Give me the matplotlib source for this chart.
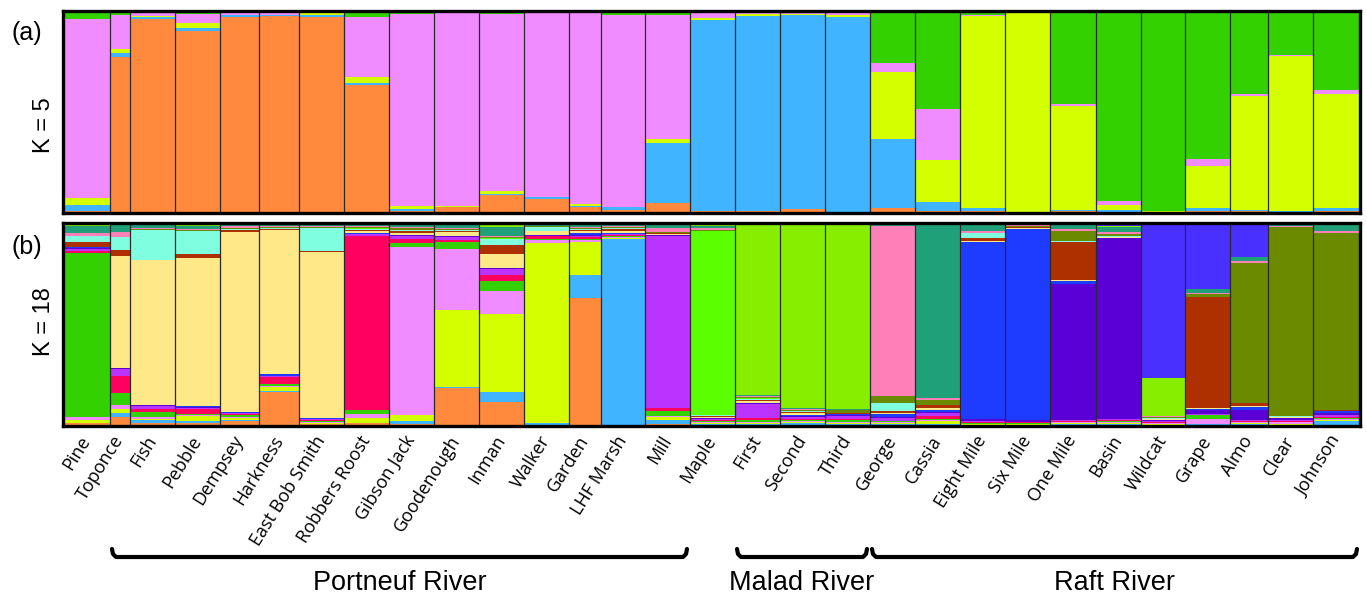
import matplotlib

matplotlib.use("Agg")
import matplotlib.pyplot as plt
import numpy as np

# ---- populations and admixture proportions --------------------------------
populations = [
    "Pine", "Toponce", "Fish", "Pebble", "Dempsey", "Harkness", "East Bob Smith",
    "Robbers Roost", "Gibson Jack", "Goodenough", "Inman", "Walker", "Garden",
    "LHF Marsh", "Mill", "Maple", "First", "Second", "Third", "George", "Cassia",
    "Eight Mile", "Six Mile", "One Mile", "Basin", "Wildcat", "Grape", "Almo",
    "Clear", "Johnson",
]

# K = 5 clusters, stacked bottom -> top
k5_colors = ["#FF8A3D", "#40B4FF", "#D4FF00", "#F08CFF", "#33D100"]
q_k5 = [
    # orange, blue, yellow, pink, green   (%)
    [0.8, 3.3, 3.3, 88.7, 3.8],     # Pine
    [77.0, 2.2, 2.0, 17.0, 1.8],    # Toponce
    [96.0, 1.0, 0.5, 2.0, 0.5],     # Fish
    [90.0, 1.7, 2.5, 4.5, 1.3],     # Pebble
    [97.0, 0.8, 0.2, 1.5, 0.5],     # Dempsey
    [97.5, 0.3, 0.2, 1.5, 0.5],     # Harkness
    [97.0, 1.0, 1.5, 0.3, 0.2],     # East Bob Smith
    [63.2, 1.0, 3.3, 29.5, 3.0],    # Robbers Roost
    [1.2, 0.8, 1.7, 94.6, 1.7],     # Gibson Jack
    [2.8, 0.3, 0.5, 96.1, 0.3],     # Goodenough
    [8.7, 0.8, 1.3, 87.9, 1.3],     # Inman
    [7.0, 0.8, 0.3, 91.4, 0.5],     # Walker
    [3.0, 0.5, 1.0, 95.0, 0.5],     # Garden
    [1.7, 1.2, 0.3, 95.0, 1.8],     # LHF Marsh
    [4.8, 30.0, 1.7, 61.3, 2.2],    # Mill
    [1.2, 94.5, 1.0, 2.5, 0.8],     # Maple
    [0.8, 96.7, 1.0, 1.2, 0.3],     # First
    [2.0, 95.8, 0.7, 1.2, 0.3],     # Second
    [0.5, 96.5, 1.2, 1.5, 0.3],     # Third
    [2.3, 34.3, 33.2, 4.7, 25.5],   # George
    [1.2, 4.2, 20.8, 25.5, 48.3],   # Cassia
    [0.8, 1.5, 95.2, 0.7, 1.8],     # Eight Mile
    [0.3, 0.3, 99.0, 0.3, 0.1],     # Six Mile
    [1.0, 0.5, 51.5, 1.2, 45.8],    # One Mile
    [0.7, 0.8, 2.5, 1.7, 94.3],     # Basin
    [0.3, 0.2, 0.5, 0.2, 98.8],     # Wildcat
    [1.2, 1.2, 20.8, 3.5, 73.3],    # Grape
    [0.8, 0.8, 56.2, 1.2, 41.0],    # Almo
    [0.5, 0.3, 76.7, 0.7, 21.8],    # Clear
    [1.2, 1.3, 56.2, 2.0, 39.3],    # Johnson
]

# K = 18 clusters, stacked bottom -> top
k18_colors = [
    "#FF8A3D",  # orange
    "#40B4FF",  # sky blue
    "#D4FF00",  # yellow-green
    "#F08CFF",  # orchid
    "#33D100",  # green
    "#FF0060",  # crimson
    "#BB33FF",  # purple
    "#5A00D6",  # indigo
    "#1E3CFF",  # royal blue
    "#FFE888",  # pale yellow
    "#AE3000",  # rust
    "#80FFE0",  # aquamarine
    "#5CFF00",  # lime
    "#6B8A00",  # olive
    "#FF80B8",  # rose
    "#20A078",  # teal
    "#88EE00",  # chartreuse
    "#4A30FF",  # blue violet
]
q_k18 = [
    [1.3, 0.3, 1.3, 1.7, 79.7, 1.0, 1.0, 0.5, 0.5, 0.3, 2.0, 3.0, 0.0, 0.3, 1.2, 3.7, 0.5, 0.8],    # Pine
    [4.5, 1.7, 2.2, 1.7, 6.2, 8.3, 3.3, 0.5, 0.3, 55.0, 2.8, 6.3, 0.0, 0.0, 2.5, 4.2, 0.0, 0.3],    # Toponce
    [1.7, 1.3, 0.5, 1.2, 2.2, 1.5, 1.7, 0.3, 0.3, 72.8, 0.3, 15.0, 0.0, 0.5, 0.5, 1.7, 0.5, 0.3],   # Fish
    [1.7, 0.8, 2.3, 0.5, 0.5, 2.5, 0.8, 0.3, 0.3, 73.0, 2.0, 11.3, 0.0, 0.5, 0.5, 1.7, 0.8, 0.5],   # Pebble
    [2.5, 0.5, 1.2, 0.5, 0.8, 0.5, 0.3, 0.3, 0.3, 90.0, 0.8, 0.5, 0.0, 0.8, 0.8, 1.0, 0.3, 0.3],    # Dempsey
    [17.0, 0.5, 2.2, 0.5, 0.8, 3.3, 0.5, 0.3, 1.0, 71.7, 0.5, 0.5, 0.0, 0.5, 0.8, 0.8, 0.3, 0.3],   # Harkness
    [0.8, 0.3, 0.3, 0.8, 0.3, 0.3, 0.5, 0.3, 0.3, 83.7, 0.5, 11.7, 0.0, 0.3, 0.3, 1.7, 0.0, 0.0],   # East Bob Smith
    [1.3, 0.3, 2.3, 1.8, 2.0, 86.3, 0.8, 0.3, 0.3, 1.2, 0.3, 0.3, 0.8, 0.5, 0.5, 0.8, 0.3, 0.3],    # Robbers Roost
    [0.8, 1.7, 2.8, 82.2, 2.2, 1.7, 1.7, 0.3, 0.3, 1.0, 0.8, 0.5, 0.0, 0.8, 0.5, 1.5, 0.3, 0.3],    # Gibson Jack
    [18.7, 0.5, 38.0, 29.8, 3.3, 1.3, 1.3, 0.3, 0.3, 1.7, 0.8, 0.5, 0.0, 0.5, 0.5, 1.7, 0.3, 0.3],  # Goodenough
    [11.7, 4.7, 37.3, 11.3, 4.7, 3.0, 2.8, 0.3, 0.3, 6.7, 4.2, 2.8, 0.5, 0.5, 0.5, 4.5, 1.3, 0.5],  # Inman
    [0.5, 1.2, 88.0, 1.7, 0.3, 1.2, 0.3, 0.3, 0.3, 1.7, 0.3, 1.7, 0.0, 0.3, 0.3, 0.8, 0.3, 0.3],    # Walker
    [63.7, 11.7, 16.3, 0.8, 0.5, 1.0, 0.5, 0.5, 1.0, 1.0, 0.8, 0.5, 0.0, 0.5, 0.5, 1.0, 0.3, 0.5],  # Garden
    [0.5, 92.5, 0.3, 0.5, 0.5, 0.8, 0.3, 0.3, 0.3, 1.0, 0.8, 0.8, 0.0, 0.3, 0.5, 1.0, 0.3, 0.3],    # LHF Marsh
    [0.8, 2.2, 1.2, 0.5, 2.5, 1.7, 85.0, 0.3, 0.3, 0.5, 0.3, 0.3, 0.0, 0.5, 1.5, 1.7, 0.5, 0.5],    # Mill
    [0.3, 0.5, 0.5, 0.8, 0.3, 0.8, 0.3, 0.3, 0.3, 0.5, 0.3, 0.5, 90.8, 0.5, 0.8, 0.8, 1.2, 0.5],    # Maple
    [0.3, 0.8, 0.5, 0.5, 0.8, 0.8, 7.2, 0.3, 0.3, 0.8, 0.5, 0.5, 0.3, 0.5, 0.8, 0.5, 83.7, 0.3],    # First
    [0.5, 0.8, 0.5, 0.5, 0.5, 0.8, 0.8, 0.5, 0.5, 0.8, 0.5, 0.5, 0.0, 0.8, 0.5, 0.5, 90.8, 0.3],    # Second
    [0.3, 0.5, 0.5, 0.5, 1.0, 0.5, 1.7, 0.5, 0.3, 0.3, 0.3, 0.3, 0.0, 1.2, 0.3, 0.5, 92.0, 0.3],    # Third
    [0.3, 0.5, 0.5, 0.5, 0.5, 0.3, 1.5, 0.5, 1.3, 0.5, 1.2, 3.8, 0.0, 3.3, 84.2, 1.2, 0.0, 0.3],    # George
    [0.5, 0.5, 1.3, 0.5, 0.8, 1.3, 1.7, 0.5, 0.8, 0.8, 1.5, 0.3, 0.0, 2.5, 0.5, 85.8, 0.0, 0.3],    # Cassia
    [0.3, 0.3, 0.3, 0.3, 0.3, 0.3, 0.5, 1.2, 87.8, 0.5, 1.7, 2.2, 0.0, 0.3, 0.7, 3.0, 0.8, 0.3],    # Eight Mile
    [0.3, 0.3, 0.3, 0.3, 0.3, 0.3, 0.3, 0.8, 96.7, 0.3, 0.3, 0.3, 0.0, 0.3, 0.5, 0.8, 0.0, 0.3],    # Six Mile
    [0.5, 0.3, 0.8, 0.3, 0.3, 0.5, 0.3, 67.5, 1.5, 0.3, 18.8, 0.3, 0.0, 5.0, 1.3, 1.7, 0.3, 0.8],   # One Mile
    [0.3, 0.8, 0.5, 0.5, 0.5, 0.5, 0.5, 90.3, 0.3, 0.3, 0.3, 0.3, 0.0, 0.8, 1.2, 2.5, 0.3, 1.7],    # Basin
    [0.3, 0.3, 0.3, 0.5, 0.3, 0.3, 0.5, 0.3, 0.3, 0.3, 0.3, 0.3, 0.0, 0.5, 0.3, 0.3, 19.2, 77.5],   # Wildcat
    [0.5, 0.3, 0.3, 2.2, 2.0, 0.3, 0.5, 1.7, 0.8, 0.3, 55.0, 0.3, 0.0, 1.2, 0.8, 1.7, 0.0, 33.0],   # Grape
    [0.5, 0.5, 0.3, 0.5, 0.3, 0.3, 0.5, 5.0, 1.5, 0.3, 1.5, 0.3, 0.0, 68.3, 1.3, 1.7, 0.0, 16.7],   # Almo
    [0.3, 0.3, 0.5, 0.8, 0.3, 0.3, 0.5, 0.8, 0.3, 0.3, 0.3, 0.3, 0.0, 93.8, 0.5, 1.7, 0.0, 0.0],    # Clear
    [0.3, 2.2, 0.3, 0.8, 0.5, 0.3, 0.8, 1.2, 0.8, 0.3, 0.3, 0.3, 0.0, 87.0, 0.8, 2.8, 0.8, 0.3],    # Johnson
]

# drainage groups: (label, first population, last population)
rivers = [
    ("Portneuf River", "Toponce", "Mill"),
    ("Malad River", "First", "Third"),
    ("Raft River", "George", "Johnson"),
]

# ---- layout ---------------------------------------------------------------
W, H = 1367, 596
# relative bar widths (pixels of the plotting strip)
widths = np.array([47, 20, 45, 45, 39, 40, 45, 45, 45, 45, 45, 45, 32, 44, 45,
                   45, 45, 45, 45, 45, 45, 45, 45, 46, 45, 44, 45, 38, 45, 47], float)
X0, X1 = 63, 63 + widths.sum()
lefts = np.concatenate([[0], np.cumsum(widths)[:-1]])
centers = lefts + widths / 2


def px_axes(fig, x0, y0, x1, y1):
    return fig.add_axes([x0 / W, 1 - y1 / H, (x1 - x0) / W, (y1 - y0) / H])


def draw_structure(ax, q, colors):
    q = np.asarray(q, float)
    q = q / q.sum(axis=1, keepdims=True)
    bottom = np.zeros(len(q))
    for k, col in enumerate(colors):
        ax.bar(lefts, q[:, k], width=widths, bottom=bottom, align="edge",
               color=col, linewidth=0, antialiased=False)
        bottom += q[:, k]
    ax.vlines(lefts[1:], 0, 1, colors="#2a2a2a", linewidth=0.9)
    ax.set_xlim(0, widths.sum())
    ax.set_ylim(0, 1)
    ax.set_yticks([])
    for sp in ax.spines.values():
        sp.set_linewidth(2.4)
        sp.set_color("black")
        sp.set_zorder(5)


fig = plt.figure(figsize=(W / 100, H / 100), dpi=100)

ax_a = px_axes(fig, X0, 11, X1, 213)
draw_structure(ax_a, q_k5, k5_colors)
ax_a.set_xticks([])

ax_b = px_axes(fig, X0, 223, X1, 426)
draw_structure(ax_b, q_k18, k18_colors)
ax_b.set_xticks(centers)
ax_b.set_xticklabels(populations, rotation=58, ha="right", va="center",
                     rotation_mode="anchor", fontsize=13, family="Open Sans")
ax_b.tick_params(axis="x", length=0, pad=8)

# overlay in pixel coordinates for panel tags and river brackets
ov = fig.add_axes([0, 0, 1, 1], zorder=-1)
ov.set_xlim(0, W)
ov.set_ylim(H, 0)
ov.axis("off")

lab = dict(family="Liberation Sans", color="black")
ov.text(27, 33, "(a)", ha="center", va="center", fontsize=18, **lab)
ov.text(44, 125, "K = 5", ha="center", va="center", rotation=90, fontsize=17, **lab)
ov.text(27, 247, "(b)", ha="center", va="center", fontsize=18, **lab)
ov.text(44, 322, "K = 18", ha="center", va="center", rotation=90, fontsize=17, **lab)

name_idx = {p: i for i, p in enumerate(populations)}
y_br, hook = 557, 8
for label, first, last in rivers:
    i, j = name_idx[first], name_idx[last]
    xa = X0 + lefts[i] + 2
    xb = X0 + lefts[j] + widths[j] - 3
    ov.plot([xa, xa + 1, xa + 4, xb - 4, xb - 1, xb],
            [y_br - hook, y_br - 3, y_br, y_br, y_br - 3, y_br - hook],
            color="black", lw=3, solid_capstyle="round", solid_joinstyle="round")
    ov.text((xa + xb) / 2, 583, label, ha="center", va="center", fontsize=19.5, **lab)

fig.savefig("out.png", dpi=100)
